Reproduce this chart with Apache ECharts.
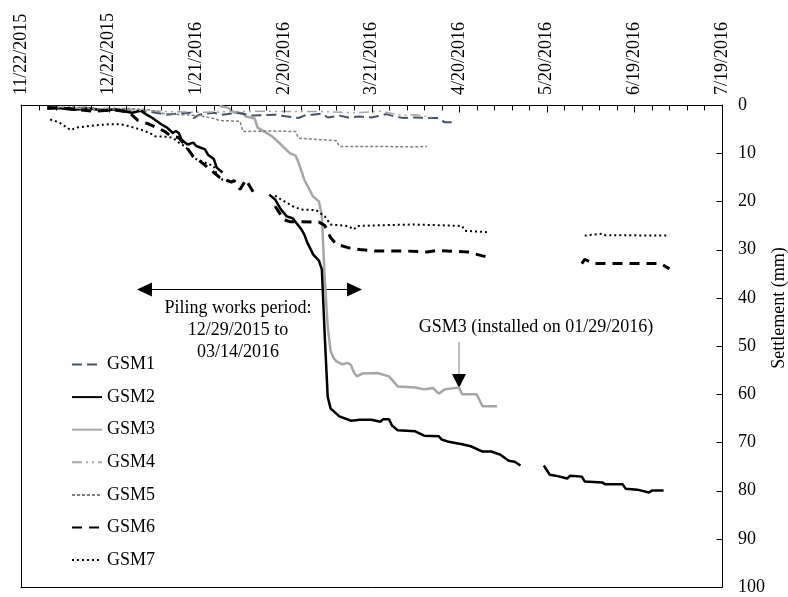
<!DOCTYPE html>
<html>
<head>
<meta charset="utf-8">
<script src="https://cdn.jsdelivr.net/npm/echarts@6/dist/echarts.min.js"></script>
<style>
  html, body { margin: 0; padding: 0; background: #fff; }
  #chart { width: 788px; height: 597px; }
</style>
</head>
<body>
<div id="chart"></div>
<script>
var START = '2015-11-22';
var FONT = '"Liberation Serif", "Times New Roman", serif';

// x tick labels (every 30 days from START)
var tickLabels = ['11/22/2015', '12/22/2015', '1/21/2016', '2/20/2016', '3/21/2016',
  '4/20/2016', '5/20/2016', '6/19/2016', '7/19/2016'];

var seriesNames = ['GSM1', 'GSM2', 'GSM3', 'GSM4', 'GSM5', 'GSM6', 'GSM7'];

// [date, settlement mm]; null = gap in readings
var gsm1 = [
  ['2015-12-01', 0.4], ['2015-12-07', 0.8], ['2015-12-14', 0.5], ['2015-12-19', 1.2], ['2015-12-24', 0.8],
  ['2015-12-29', 1.0], ['2016-01-04', 1.3], ['2016-01-11', 2.0], ['2016-01-16', 1.7], ['2016-01-19', 1.6],
  ['2016-01-20', 2.7], ['2016-01-22', 2.0], ['2016-01-27', 1.6], ['2016-01-30', 2.0], ['2016-02-04', 1.6],
  ['2016-02-09', 2.2], ['2016-02-17', 2.0], ['2016-02-19', 2.2], ['2016-02-25', 2.7], ['2016-02-27', 2.2],
  ['2016-03-04', 1.8], ['2016-03-06', 2.6], ['2016-03-10', 2.2], ['2016-03-13', 2.6], ['2016-03-17', 2.4],
  ['2016-03-21', 2.6], ['2016-03-24', 2.2], ['2016-03-26', 1.9], ['2016-03-29', 2.4], ['2016-04-01', 2.7],
  ['2016-04-05', 2.6], ['2016-04-09', 2.7], ['2016-04-13', 2.7], ['2016-04-15', 3.6], ['2016-04-18', 3.6]
];
var gsm2 = [
  ['2015-12-01', 0.8], ['2015-12-05', 0.6], ['2015-12-10', 1.0], ['2015-12-16', 0.7], ['2015-12-21', 1.2],
  ['2015-12-24', 0.9], ['2015-12-27', 1.3], ['2015-12-30', 1.6], ['2016-01-02', 1.2], ['2016-01-04', 2.0],
  ['2016-01-06', 2.7], ['2016-01-09', 4.0], ['2016-01-11', 4.7], ['2016-01-13', 5.8], ['2016-01-14', 5.4],
  ['2016-01-15', 5.8], ['2016-01-16', 7.2], ['2016-01-18', 8.2], ['2016-01-20', 7.8], ['2016-01-21', 8.5],
  ['2016-01-24', 9.2], ['2016-01-25', 10.3], ['2016-01-27', 11.2], ['2016-01-28', 13.0], ['2016-01-30', 14.0],
  ['2016-02-07', null],
  ['2016-02-15', 18.6], ['2016-02-17', 19.6], ['2016-02-19', 21.7], ['2016-02-21', 23.1], ['2016-02-23', 23.5],
  ['2016-02-26', 25.8], ['2016-02-27', 26.9], ['2016-02-28', 28.5], ['2016-03-01', 31.0], ['2016-03-03', 32.3],
  ['2016-03-04', 34.1], ['2016-03-05', 48.0], ['2016-03-06', 60.5], ['2016-03-07', 63.0], ['2016-03-08', 63.5],
  ['2016-03-10', 64.6], ['2016-03-14', 65.5], ['2016-03-17', 65.3], ['2016-03-21', 65.3], ['2016-03-24', 65.7],
  ['2016-03-25', 65.2], ['2016-03-27', 65.2], ['2016-03-28', 66.5], ['2016-03-30', 67.5], ['2016-04-05', 67.7],
  ['2016-04-08', 68.6], ['2016-04-13', 68.7], ['2016-04-14', 69.4], ['2016-04-16', 69.8], ['2016-04-21', 70.4],
  ['2016-04-24', 70.8], ['2016-04-28', 71.9], ['2016-05-01', 71.9], ['2016-05-04', 72.5], ['2016-05-07', 73.8],
  ['2016-05-09', 74.0], ['2016-05-11', 74.8],
  ['2016-05-15', null],
  ['2016-05-19', 74.8], ['2016-05-21', 76.7], ['2016-05-23', 76.9], ['2016-05-27', 77.5], ['2016-05-28', 76.9],
  ['2016-06-01', 77.1], ['2016-06-02', 78.1], ['2016-06-08', 78.3], ['2016-06-09', 78.7], ['2016-06-15', 78.7],
  ['2016-06-16', 79.6], ['2016-06-20', 79.8], ['2016-06-24', 80.4], ['2016-06-25', 80.0], ['2016-06-29', 80.0]
];
var gsm3 = [
  ['2016-01-29', 0.2], ['2016-02-01', 0.6], ['2016-02-03', 1.6], ['2016-02-06', 1.7], ['2016-02-07', 2.4],
  ['2016-02-10', 2.8], ['2016-02-11', 4.7], ['2016-02-16', 6.5], ['2016-02-19', 8.2], ['2016-02-22', 10.0],
  ['2016-02-24', 10.5], ['2016-02-25', 11.9], ['2016-02-27', 15.5], ['2016-03-01', 19.0], ['2016-03-03', 20.0],
  ['2016-03-04', 23.0], ['2016-03-05', 36.0], ['2016-03-06', 46.0], ['2016-03-07', 51.0], ['2016-03-08', 52.5],
  ['2016-03-09', 53.2], ['2016-03-11', 53.8], ['2016-03-13', 53.5], ['2016-03-14', 54.0], ['2016-03-15', 55.5],
  ['2016-03-16', 56.3], ['2016-03-18', 55.7], ['2016-03-23', 55.6], ['2016-03-27', 56.3], ['2016-03-30', 58.4],
  ['2016-04-05', 58.6], ['2016-04-08', 59.0], ['2016-04-11', 58.7], ['2016-04-13', 59.9], ['2016-04-15', 59.0],
  ['2016-04-20', 58.6], ['2016-04-21', 60.0], ['2016-04-26', 60.0], ['2016-04-28', 62.5], ['2016-05-03', 62.5]
];
var gsm4 = [
  ['2015-12-01', 0.3], ['2015-12-09', 0.5], ['2015-12-16', 0.9], ['2015-12-23', 0.6], ['2015-12-29', 0.9],
  ['2016-01-05', 1.2], ['2016-01-12', 1.4], ['2016-01-22', 1.5], ['2016-02-02', 1.4], ['2016-02-12', 1.3],
  ['2016-02-22', 1.35], ['2016-03-04', 1.35], ['2016-03-15', 1.6], ['2016-03-24', 1.3], ['2016-04-01', 2.2],
  ['2016-04-05', 2.0], ['2016-04-09', 2.4], ['2016-04-11', 2.6]
];
var gsm5 = [
  ['2015-12-01', 0.6], ['2015-12-10', 0.4], ['2015-12-19', 0.9], ['2015-12-28', 0.7], ['2016-01-05', 1.0],
  ['2016-01-10', 1.8], ['2016-01-22', 2.2], ['2016-01-27', 2.8], ['2016-01-29', 3.2], ['2016-02-05', 3.4],
  ['2016-02-06', 5.5], ['2016-02-15', 5.4], ['2016-02-24', 5.5], ['2016-02-25', 6.9], ['2016-03-09', 7.4],
  ['2016-03-10', 8.6], ['2016-03-24', 8.6], ['2016-04-04', 8.7], ['2016-04-09', 8.6]
];
var gsm6 = [
  ['2015-12-01', 0.5], ['2015-12-09', 0.8], ['2015-12-17', 1.3], ['2015-12-24', 1.0], ['2015-12-29', 1.5],
  ['2016-01-01', 3.2], ['2016-01-05', 4.0], ['2016-01-10', 5.4], ['2016-01-12', 6.3], ['2016-01-15', 6.8],
  ['2016-01-17', 8.2], ['2016-01-20', 10.7], ['2016-01-22', 11.5], ['2016-01-27', 14.0], ['2016-01-29', 15.0],
  ['2016-02-02', 16.0], ['2016-02-03', 15.7], ['2016-02-05', 17.5], ['2016-02-07', 15.5], ['2016-02-10', 18.6],
  ['2016-02-13', null],
  ['2016-02-17', 21.0], ['2016-02-20', 23.8], ['2016-02-22', 24.2], ['2016-03-03', 24.3], ['2016-03-05', 25.0],
  ['2016-03-07', 27.5], ['2016-03-09', 28.9], ['2016-03-13', 29.6], ['2016-03-17', 30.0], ['2016-03-22', 30.3],
  ['2016-04-02', 30.3], ['2016-04-09', 30.5], ['2016-04-12', 30.2], ['2016-04-23', 30.5], ['2016-04-28', 31.3],
  ['2016-05-01', 31.7],
  ['2016-05-15', null],
  ['2016-06-01', 32.9], ['2016-06-02', 32.0], ['2016-06-05', 32.9], ['2016-06-28', 32.9], ['2016-07-01', 34.0]
];
var gsm7 = [
  ['2015-12-02', 3.0], ['2015-12-05', 3.6], ['2015-12-09', 5.2], ['2015-12-11', 4.7], ['2015-12-16', 4.3],
  ['2015-12-22', 4.0], ['2015-12-26', 4.0], ['2015-12-29', 4.4], ['2016-01-02', 5.1], ['2016-01-05', 5.8],
  ['2016-01-07', 6.5], ['2016-01-11', 6.6], ['2016-01-13', 6.8], ['2016-01-15', 7.8], ['2016-01-17', 8.5],
  ['2016-01-19', 9.8], ['2016-01-20', 11.0], ['2016-01-23', 11.7], ['2016-01-27', 12.7], ['2016-01-28', 14.4],
  ['2016-01-30', 15.5], ['2016-02-03', 16.0],
  ['2016-02-08', null],
  ['2016-02-17', 18.8], ['2016-02-19', 19.6], ['2016-02-23', 21.0], ['2016-02-26', 21.7], ['2016-03-02', 21.8],
  ['2016-03-05', 23.1], ['2016-03-07', 24.8], ['2016-03-13', 25.1], ['2016-03-15', 25.8], ['2016-03-16', 25.1],
  ['2016-03-27', 24.9], ['2016-04-04', 24.8], ['2016-04-11', 24.9], ['2016-04-21', 25.1], ['2016-04-22', 26.1],
  ['2016-04-30', 26.4],
  ['2016-05-15', null],
  ['2016-06-02', 27.1], ['2016-06-08', 26.7], ['2016-06-09', 27.0], ['2016-07-01', 27.1]
];

// days since START, so the 30-day ticks can start at 0
function toDay(s) {
  return Math.round((Date.parse(s) - Date.parse(START)) / 864e5);
}
function prep(arr) {
  return arr.map(function(p) { return [toDay(p[0]), p[1] === null ? '-' : p[1]]; });
}

var styles = [
  {color: '#44546a', width: 2, type: [10, 5]},
  {color: '#000000', width: 2.5, type: 'solid'},
  {color: '#a6a6a6', width: 2.5, type: 'solid'},
  {color: '#a6a6a6', width: 1.5, type: [10, 4, 2, 4, 2, 4]},
  {color: '#808080', width: 1.5, type: [3, 2]},
  {color: '#000000', width: 3, type: [10, 7]},
  {color: '#000000', width: 2, type: [2, 3]}
];
var allData = [gsm1, gsm2, gsm3, gsm4, gsm5, gsm6, gsm7];

var chart = echarts.init(document.getElementById('chart'));

var series = seriesNames.map(function(name, i) {
  return {
    name: name,
    type: 'line',
    data: prep(allData[i]),
    symbol: 'none',
    connectNulls: false,
    z: i === 2 ? 1 : 2,
    lineStyle: styles[i],
    itemStyle: {color: styles[i].color}
  };
});

// inward tick marks drawn through the axes' coord system
// (the axes' own inside ticks were not showing)
var xTickDays = [];
for (var d = 0; d <= 240; d += 6) xTickDays.push([d, 0]);
var yTickMm = [];
for (var m = 0; m <= 100; m += 10) yTickMm.push([240, m]);

function tickSeries(data, vertical) {
  return {
    type: 'custom',
    silent: true,
    clip: false,
    z: 5,
    data: data,
    encode: {x: 0, y: 1},
    renderItem: function(params, api) {
      var p = api.coord([api.value(0), api.value(1)]);
      var x = Math.round(p[0]) + 0.5;
      var y = Math.round(p[1]) + 0.5;
      var shape;
      if (vertical) {
        var len = api.value(0) % 30 === 0 ? 7 : 5;
        shape = {x1: x, y1: y, x2: x, y2: y + len};
      } else {
        shape = {x1: x - 6, y1: y, x2: x, y2: y};
      }
      return {type: 'line', shape: shape, style: {stroke: '#000', lineWidth: 1}};
    }
  };
}
series.push(tickSeries(xTickDays, true));
series.push(tickSeries(yTickMm, false));

var txt = function(text, x, y, extra) {
  var o = {
    type: 'text',
    x: x, y: y,
    style: {text: text, font: '18px ' + FONT, fill: '#000', align: 'center', verticalAlign: 'middle'}
  };
  if (extra) for (var k in extra) o[k] = extra[k];
  return o;
};

var blackLine = {show: true, onZero: false, lineStyle: {color: '#000', width: 1}};

chart.setOption({
  animation: false,
  textStyle: {fontFamily: FONT},
  grid: {left: 21, right: 66, top: 105, bottom: 10, show: false},
  legend: {
    data: seriesNames,
    orient: 'vertical',
    left: 66,
    top: 349.5,
    itemWidth: 30,
    itemHeight: 20,
    itemGap: 12.6,
    itemStyle: {color: 'transparent', borderWidth: 0, opacity: 0},
    textStyle: {fontSize: 18, color: '#000', fontFamily: FONT, lineHeight: 20}
  },
  xAxis: [{
    type: 'value',
    position: 'top',
    min: 0,
    max: 240,
    interval: 30,
    axisLine: blackLine,
    axisTick: {show: false},
    splitLine: {show: false},
    axisLabel: {
      rotate: -90,
      margin: 10,
      fontSize: 18,
      color: '#000',
      fontFamily: FONT,
      formatter: function(v) { return tickLabels[Math.round(v / 30)]; }
    }
  }, {
    // bottom frame
    type: 'value',
    position: 'bottom',
    min: 0,
    max: 240,
    axisLine: blackLine,
    axisTick: {show: false},
    axisLabel: {show: false},
    splitLine: {show: false}
  }],
  yAxis: [{
    type: 'value',
    position: 'right',
    inverse: true,
    min: 0,
    max: 100,
    interval: 10,
    axisLine: blackLine,
    axisTick: {show: false},
    splitLine: {show: false},
    axisLabel: {margin: 16, fontSize: 18, color: '#000', fontFamily: FONT}
  }, {
    // left frame
    type: 'value',
    position: 'left',
    inverse: true,
    min: 0,
    max: 100,
    axisLine: blackLine,
    axisTick: {show: false},
    axisLabel: {show: false},
    splitLine: {show: false}
  }],
  graphic: [
    // piling period double arrow
    {type: 'line', shape: {x1: 150, y1: 289.5, x2: 349, y2: 289.5}, style: {stroke: '#000', lineWidth: 1}},
    {type: 'polygon', shape: {points: [[137, 289.5], [152, 282.5], [152, 296.5]]}, style: {fill: '#000'}},
    {type: 'polygon', shape: {points: [[362, 289.5], [347, 282.5], [347, 296.5]]}, style: {fill: '#000'}},
    txt('Piling works period:', 238, 308),
    txt('12/29/2015 to', 238, 330),
    txt('03/14/2016', 238, 352),
    // GSM3 install note
    txt('GSM3 (installed on 01/29/2016)', 536, 327),
    {type: 'line', shape: {x1: 459, y1: 342, x2: 459, y2: 375}, style: {stroke: '#808080', lineWidth: 1}},
    {type: 'polygon', shape: {points: [[452, 374], [466, 374], [459, 388]]}, style: {fill: '#000'}},
    // y axis title
    txt('Settlement (mm)', 779, 308, {rotation: Math.PI / 2})
  ],
  series: series
});
</script>
</body>
</html>
